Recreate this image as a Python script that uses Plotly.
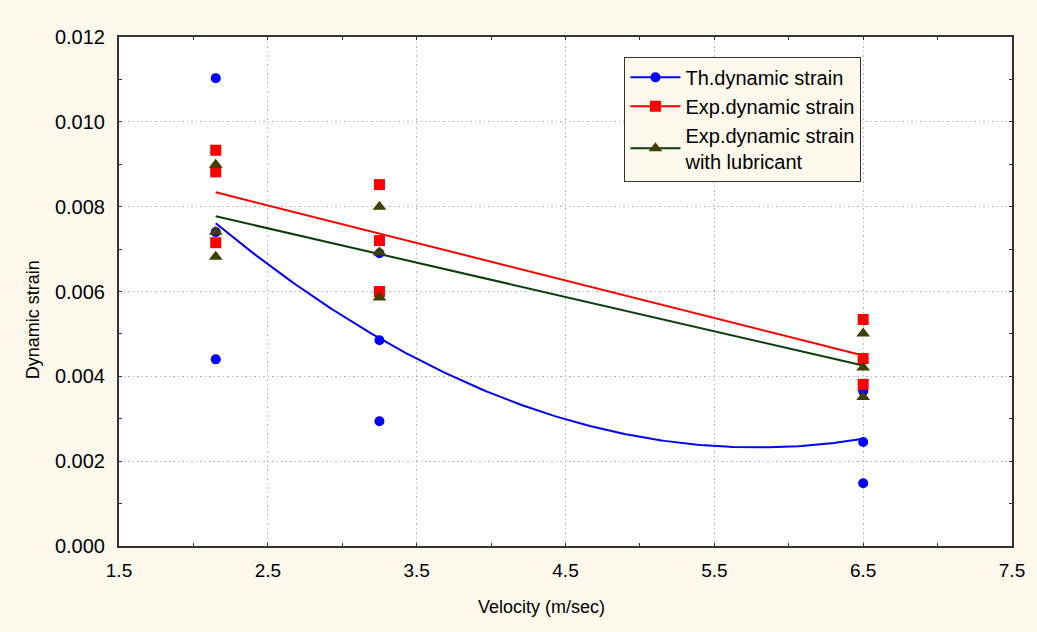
import numpy as np
import plotly.graph_objects as go

# Data
velocity = [2.15, 2.15, 2.15, 3.25, 3.25, 3.25, 6.5, 6.5, 6.5]
th_strain = [0.01103, 0.0074, 0.0044, 0.00485, 0.0069, 0.00294, 0.00245, 0.00365, 0.00148]
exp_strain = [0.00933, 0.00882, 0.00715, 0.00852, 0.0072, 0.0060, 0.00534, 0.00442, 0.00381]
lub_strain = [0.00899, 0.00741, 0.00682, 0.0080, 0.00692, 0.00586, 0.00501, 0.00421, 0.00351]
x_ticks = [1.5, 2.5, 3.5, 4.5, 5.5, 6.5, 7.5]
y_ticks = [0.0, 0.002, 0.004, 0.006, 0.008, 0.010, 0.012]

BLUE = "#0000ff"
RED = "#ff0000"
GREEN_LINE = "#0b3d0b"
OLIVE = "#3f3f00"
BG = "#fdf8ec"
FONT = "Liberation Sans, Arial, sans-serif"

xs = np.linspace(min(velocity), max(velocity), 200)
th_fit = np.polyval(np.polyfit(velocity, th_strain, 2), xs)
exp_fit = np.polyval(np.polyfit(velocity, exp_strain, 1), xs)
lub_fit = np.polyval(np.polyfit(velocity, lub_strain, 1), xs)

fig = go.Figure()
# fitted lines
fig.add_trace(go.Scatter(x=xs, y=th_fit, mode="lines", line=dict(color=BLUE, width=2), showlegend=False, hoverinfo="skip"))
fig.add_trace(go.Scatter(x=xs, y=exp_fit, mode="lines", line=dict(color=RED, width=2), showlegend=False, hoverinfo="skip"))
fig.add_trace(go.Scatter(x=xs, y=lub_fit, mode="lines", line=dict(color=GREEN_LINE, width=2), showlegend=False, hoverinfo="skip"))
# points
fig.add_trace(go.Scatter(x=velocity, y=th_strain, mode="markers", marker=dict(symbol="circle", size=10, color=BLUE), showlegend=False))
fig.add_trace(go.Scatter(x=velocity, y=exp_strain, mode="markers", marker=dict(symbol="square", size=11, color=RED), showlegend=False))
fig.add_trace(go.Scatter(x=velocity, y=lub_strain, mode="markers", marker=dict(symbol="triangle-up", size=12, color=OLIVE), showlegend=False))
# legend entries
fig.add_trace(go.Scatter(x=[None], y=[None], mode="lines+markers", name="Th.dynamic strain",
                         line=dict(color=BLUE, width=2), marker=dict(symbol="circle", size=10, color=BLUE)))
fig.add_trace(go.Scatter(x=[None], y=[None], mode="lines+markers", name="Exp.dynamic strain",
                         line=dict(color=RED, width=2), marker=dict(symbol="square", size=11, color=RED)))
fig.add_trace(go.Scatter(x=[None], y=[None], mode="lines+markers", name="Exp.dynamic strain<br>with lubricant",
                         line=dict(color=GREEN_LINE, width=2), marker=dict(symbol="triangle-up", size=12, color=OLIVE)))

axis_common = dict(
    showline=True, linecolor="#333333", linewidth=2, mirror="ticks",
    ticks="inside", ticklen=3, tickcolor="#333333", tickwidth=1,
    showgrid=True, gridcolor="#b4b4b4", griddash="1.5px,3px", gridwidth=1,
    zeroline=False,
)

fig.update_xaxes(range=[1.5, 7.5], tickvals=x_ticks, ticktext=[f"{v:.1f}" for v in x_ticks],
                 tickfont=dict(family=FONT, size=19, color="#000000"), ticklabelstandoff=6,
                 minor=dict(ticks="inside", ticklen=3, dtick=0.5, tick0=1.5, tickcolor="#333333", showgrid=False),
                 **axis_common)
fig.update_yaxes(range=[0, 0.012], tickvals=y_ticks, ticktext=[f"{v:.3f}" for v in y_ticks],
                 tickfont=dict(family=FONT, size=20, color="#000000"), ticklabelstandoff=8,
                 minor=dict(ticks="inside", ticklen=3, dtick=0.001, tick0=0, tickcolor="#333333", showgrid=False),
                 **axis_common)

fig.add_annotation(text="Velocity (m/sec)", xref="paper", yref="paper", x=0.473, y=-0.12,
                   xanchor="center", yanchor="middle", showarrow=False,
                   font=dict(family=FONT, size=18, color="#000000"))
fig.add_annotation(text="Dynamic strain", xref="paper", yref="paper", x=-0.096, y=0.444,
                   xanchor="center", yanchor="middle", showarrow=False, textangle=-90,
                   font=dict(family=FONT, size=18, color="#000000"))

fig.update_layout(
    width=1037, height=632,
    margin=dict(l=119, r=23, t=37, b=86),
    paper_bgcolor=BG, plot_bgcolor="#ffffff",
    font=dict(family=FONT, size=20, color="#000000"),
    legend=dict(x=0.566, y=0.961, xanchor="left", yanchor="top",
                bgcolor=BG, bordercolor="#333333", borderwidth=1,
                font=dict(family=FONT, size=20, color="#000000"), itemwidth=50, tracegroupgap=0),
    showlegend=True,
)

fig.write_html("out.html", config={"displayModeBar": False},
               post_script="document.body.style.margin='0';document.body.style.padding='0';")
